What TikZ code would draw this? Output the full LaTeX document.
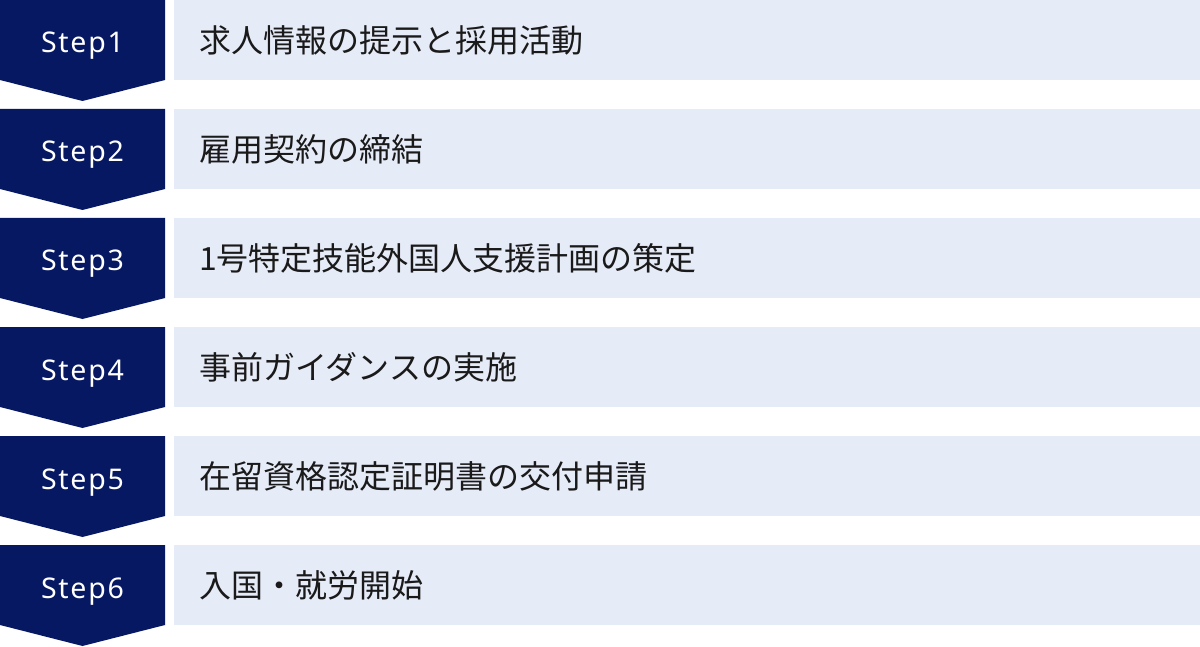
\documentclass[tikz,border=0pt]{standalone}
\usepackage{fontspec}
\setmainfont{Noto Sans}
\newfontfamily\jpfont{Noto Sans CJK JP}
\newfontfamily\stepfont[LetterSpace=6]{Noto Sans}
\definecolor{navy}{HTML}{061862}
\definecolor{paleblue}{HTML}{E6EBF8}
\definecolor{ink}{HTML}{1A1A1A}
\tikzset{
  chevron/.style={fill=navy, draw=none},
  band/.style={fill=paleblue, draw=none},
  steplabel/.style={text=white, font=\stepfont\fontsize{28.5}{32}\selectfont, inner sep=0pt, anchor=base},
  tasklabel/.style={text=ink, font=\jpfont\fontsize{32}{36}\selectfont, anchor=west, inner sep=0pt},
}
\begin{document}
\begin{tikzpicture}[x=1pt,y=-1pt]
\useasboundingbox (0,0) rectangle (1200,647);
\foreach \i/\txt in {1/求人情報の提示と採用活動,2/雇用契約の締結,3/1号特定技能外国人支援計画の策定,4/事前ガイダンスの実施,5/在留資格認定証明書の交付申請,6/入国・就労開始}{
  \pgfmathsetmacro{\t}{109*(\i-1)}
  \fill[chevron] (0,\t) -- (165,\t) -- (165,\t+80) -- (82.5,\t+101) -- (0,\t+80) -- cycle;
  \fill[band] (174,\t) rectangle (1200,\t+80);
  \node[steplabel] (step\i) at (82.5,\t+53) {Step\i};
  \node[tasklabel] (task\i) at (199,\t+40.5) {\txt};
}
\end{tikzpicture}
\end{document}
